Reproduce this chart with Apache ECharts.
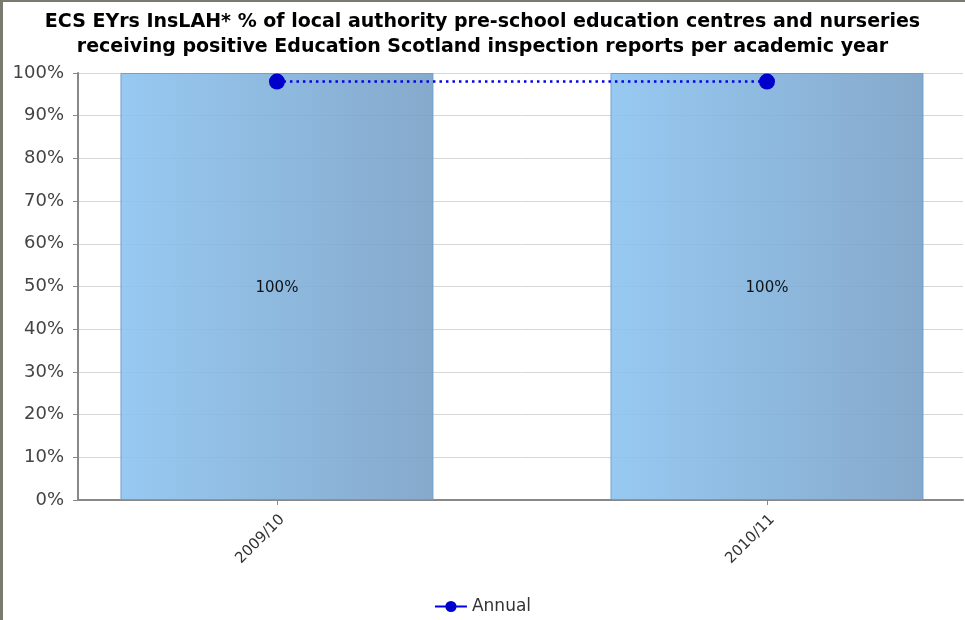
<!DOCTYPE html>
<html>
<head>
<meta charset="utf-8">
<script src="https://cdn.jsdelivr.net/npm/echarts@6/dist/echarts.min.js"></script>
<style>
html,body{margin:0;padding:0;background:#fff;}
#chart{width:965px;height:620px;}
</style>
</head>
<body>
<div id="chart"></div>
<script>
const categories = ['2009/10', '2010/11'];
const barValues = [100, 100];
const annualValues = [98, 98];
const titleLines = [
  'ECS EYrs InsLAH* % of local authority pre-school education centres and nurseries',
  'receiving positive Education Scotland inspection reports per academic year'
];

const chart = echarts.init(document.getElementById('chart'), null, {renderer: 'canvas'});
const idx = categories.map((c, i) => i);

const option = {
  animation: false,
  backgroundColor: '#fff',
  title: {
    text: titleLines.join('\n'),
    left: 'center',
    top: 5,
    textStyle: {
      fontFamily: 'DejaVu Sans',
      fontWeight: 'bold',
      fontSize: 19,
      lineHeight: 25,
      color: '#000'
    }
  },
  graphic: [
    {type: 'rect', shape: {x: 0, y: 0, width: 965, height: 2}, style: {fill: '#7a7a6e'}, silent: true, z: 100},
    {type: 'rect', shape: {x: 0, y: 0, width: 3, height: 620}, style: {fill: '#7a7a6e'}, silent: true, z: 100}
  ],
  legend: {
    data: ['Annual'],
    bottom: 0,
    left: 'center',
    itemWidth: 32,
    itemHeight: 14,
    itemGap: 6,
    lineStyle: {type: 'solid', width: 2},
    textStyle: {fontFamily: 'DejaVu Sans', fontSize: 17, color: '#333'}
  },
  grid: {left: 78, right: 2, top: 73, bottom: 120, containLabel: false},
  xAxis: {
    type: 'value',
    min: -0.406,
    max: 1.4,
    axisLine: {show: true, onZero: false, lineStyle: {color: '#888', width: 2}},
    axisTick: {show: true, customValues: idx, length: 5, lineStyle: {color: '#888'}},
    axisLabel: {
      customValues: idx,
      rotate: 45,
      fontFamily: 'DejaVu Sans',
      fontSize: 15,
      color: '#333',
      margin: 12,
      verticalAlign: 'top',
      formatter: function (v) { return categories[Math.round(v)]; }
    },
    splitLine: {show: false}
  },
  yAxis: {
    type: 'value',
    min: 0,
    max: 100,
    interval: 10,
    axisLine: {show: true, onZero: false, lineStyle: {color: '#888', width: 2}},
    axisTick: {show: true, length: 5, lineStyle: {color: '#888'}},
    axisLabel: {
      formatter: '{value}%',
      fontFamily: 'DejaVu Sans',
      fontSize: 18,
      color: '#444',
      margin: 14
    },
    splitLine: {show: true, lineStyle: {color: '#d6d6d6', width: 1}}
  },
  series: [
    {
      name: 'Value',
      type: 'bar',
      data: barValues.map((v, i) => [i, v]),
      barWidth: 313,
      itemStyle: {
        opacity: 0.9,
        borderColor: '#6a9bc9',
        borderWidth: 1,
        color: new echarts.graphic.LinearGradient(0, 0, 1, 0, [
          {offset: 0, color: '#8cc3f0'},
          {offset: 1, color: '#78a0c6'}
        ])
      },
      label: {
        show: true,
        position: 'inside',
        offset: [0, 2],
        formatter: function (p) { return p.value[1] + '%'; },
        fontFamily: 'DejaVu Sans',
        fontSize: 15,
        color: '#000'
      },
      z: 2
    },
    {
      name: 'Annual',
      type: 'line',
      data: annualValues.map((v, i) => [i, v]),
      symbol: 'circle',
      symbolSize: 16,
      itemStyle: {color: '#0000cc'},
      lineStyle: {color: '#0000ee', width: 2.5, type: [2.5, 4]},
      z: 3
    }
  ]
};
chart.setOption(option);
</script>
</body>
</html>
